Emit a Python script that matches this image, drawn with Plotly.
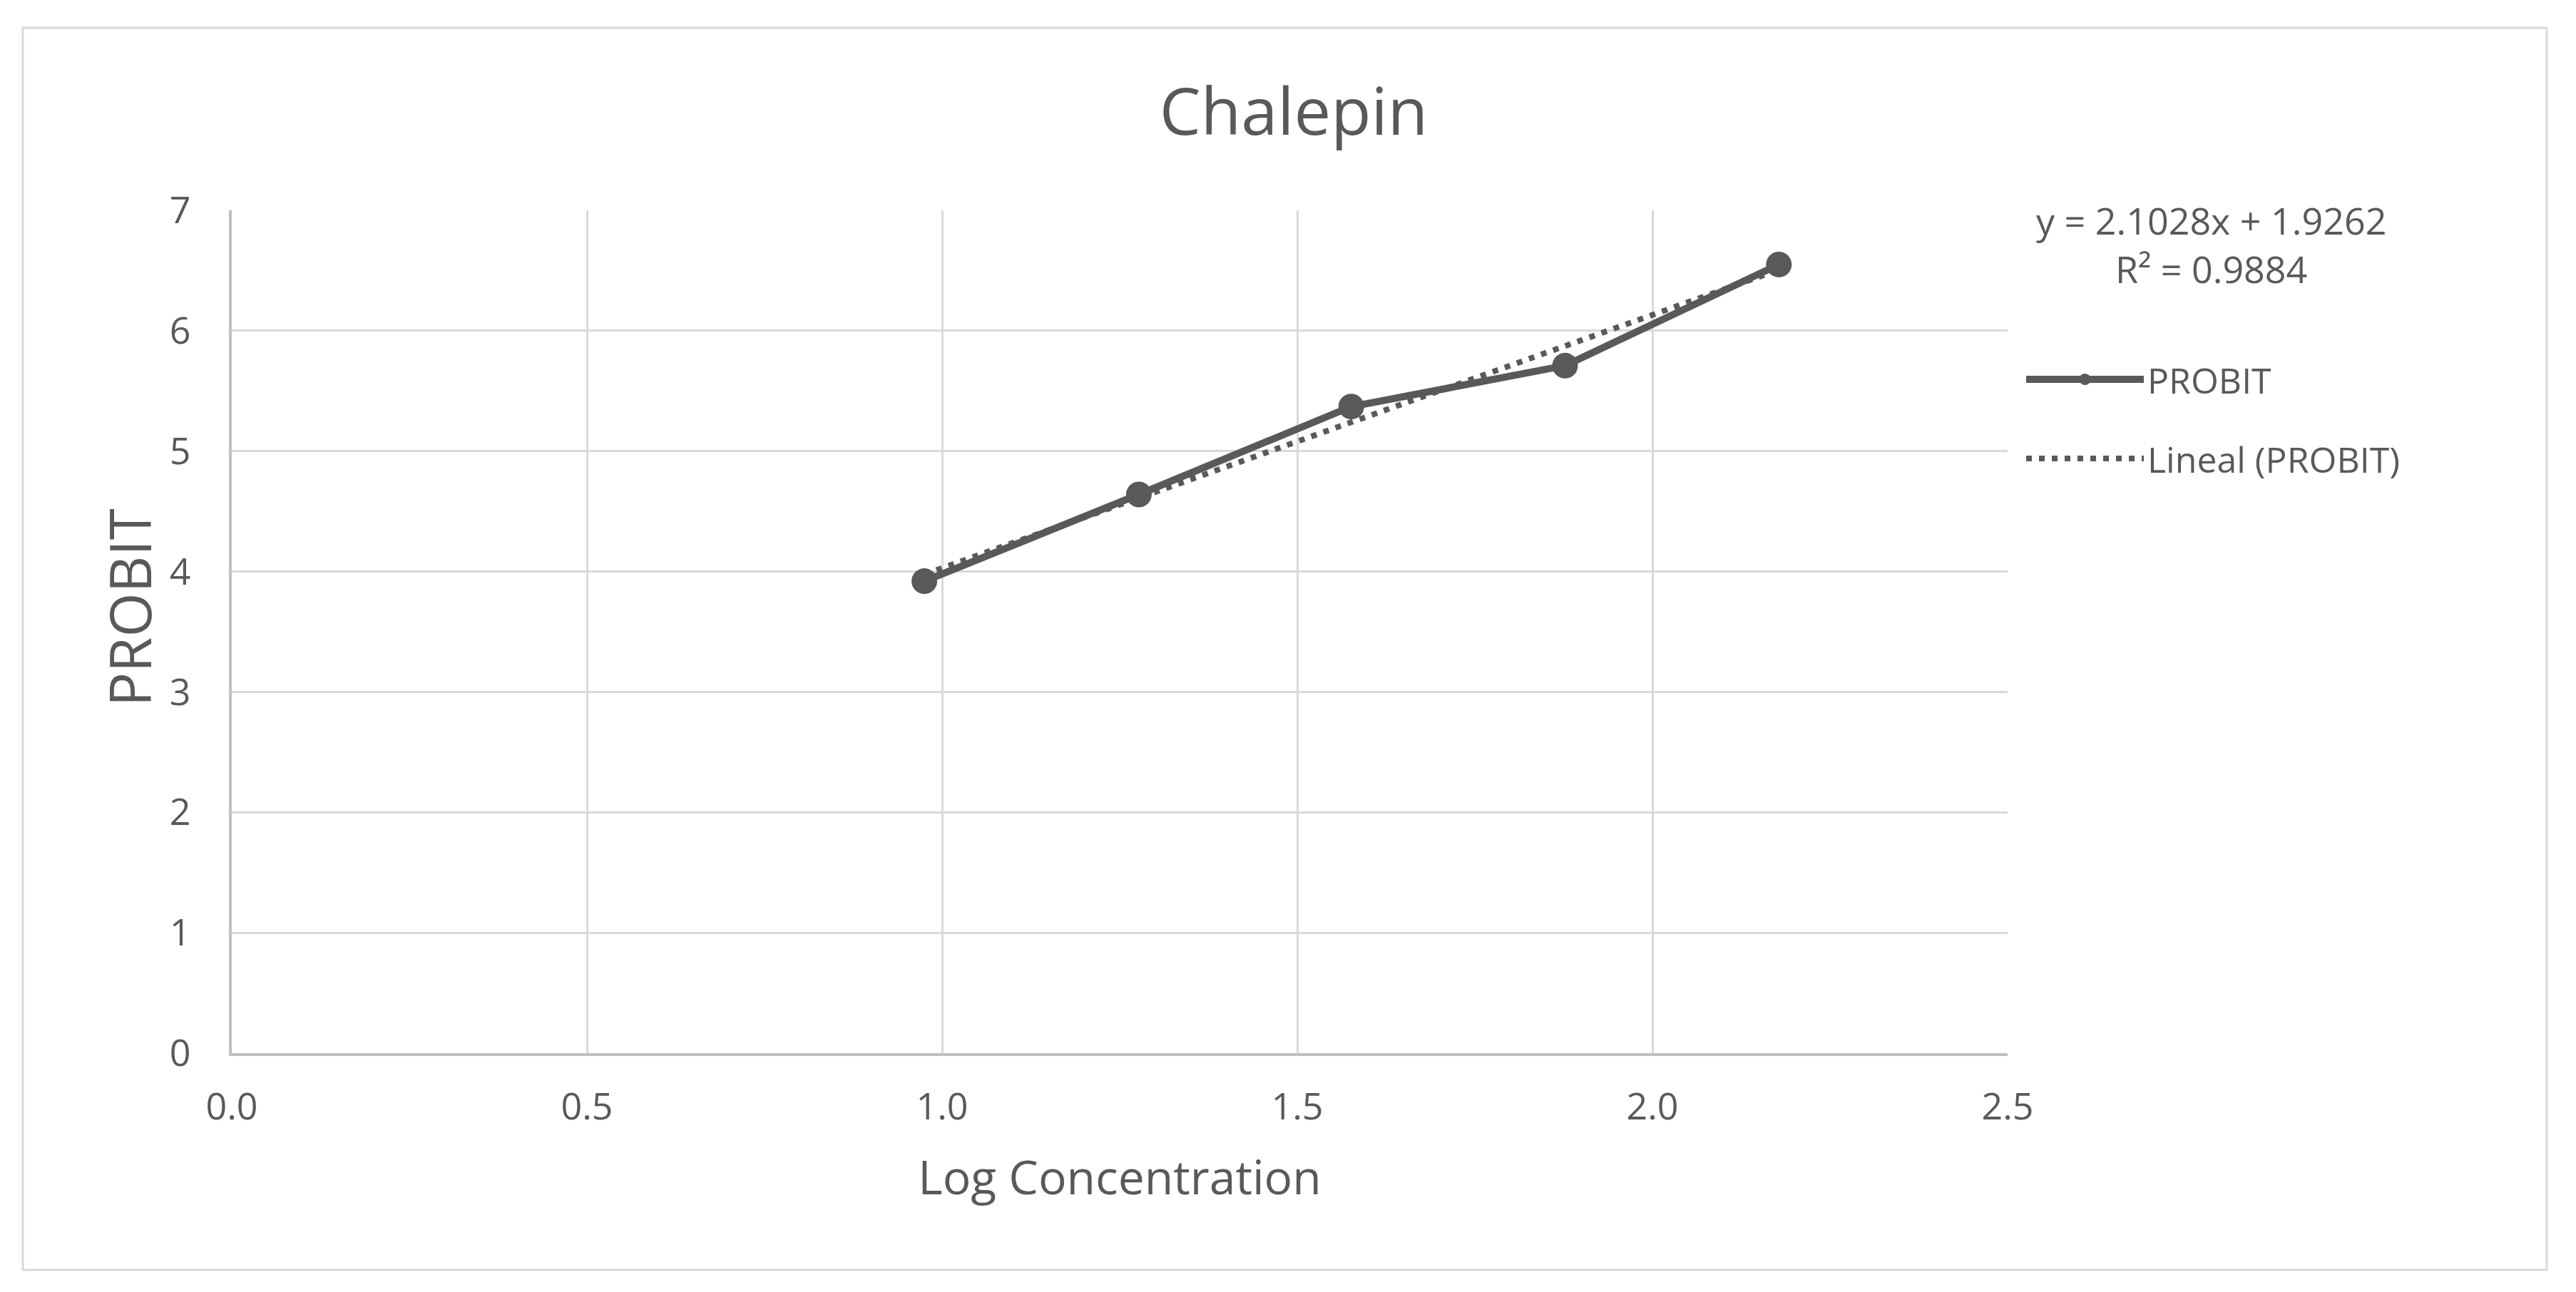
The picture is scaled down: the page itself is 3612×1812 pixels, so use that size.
import plotly.graph_objects as go

# Data
log_conc = [0.975, 1.277, 1.576, 1.877, 2.178]
probit = [3.92, 4.64, 5.37, 5.71, 6.55]
slope = 2.1028
intercept = 1.9262
r_squared = 0.9884
x_ticks = [0.0, 0.5, 1.0, 1.5, 2.0, 2.5]
y_ticks = [0, 1, 2, 3, 4, 5, 6, 7]

FONT = "Open Sans"
GREY = "#595959"
GRID = "#d9d9d9"
OFF = 8  # page body margin compensation

# plot area (reference pixels)
PL, PR, PT, PB = 325, 2815, 295, 1477
PW, PH = PR - PL, PB - PT


def px_x(x):
    return (x - PL) / PW


def px_y(y):
    return (PB - y) / PH


trend_x = [min(log_conc), max(log_conc)]
trend_y = [slope * v + intercept for v in trend_x]

fig = go.Figure()
fig.add_trace(go.Scatter(
    x=log_conc, y=probit, mode="lines+markers", name="PROBIT",
    line=dict(color=GREY, width=10),
    marker=dict(color=GREY, size=36),
    legend="legend",
))
fig.add_trace(go.Scatter(
    x=trend_x, y=trend_y, mode="lines", name="Lineal (PROBIT)",
    line=dict(color=GREY, width=8, dash="8px,10px"),
    legend="legend2",
))

LEG_W = 165
LEG_X = px_x(3013 - LEG_W - 12)

fig.update_layout(
    width=3612, height=1812,
    paper_bgcolor="white", plot_bgcolor="white",
    margin=dict(l=PL - OFF, r=3612 - (PR - OFF), t=PT - OFF, b=1812 - (PB - OFF)),
    font=dict(family=FONT, color=GREY),
    title=dict(text="Chalepin", font=dict(size=92, color=GREY, family=FONT),
               xref="container", x=0.5, xanchor="center",
               yref="container", y=1 - (157 - OFF) / 1812, yanchor="middle"),
    xaxis=dict(range=[0, 2.5], tickvals=x_ticks, tickformat=".1f",
               showgrid=True, gridcolor=GRID, gridwidth=3,
               showline=True, linecolor="#bfbfbf", linewidth=4,
               zeroline=False, ticks="", ticklabelstandoff=27,
               tickfont=dict(size=52, color=GREY, family=FONT),
               title=dict(text="Log Concentration", standoff=45,
                          font=dict(size=66, color=GREY, family=FONT))),
    yaxis=dict(range=[0, 7], tickvals=y_ticks,
               showgrid=True, gridcolor=GRID, gridwidth=3,
               showline=True, linecolor="#bfbfbf", linewidth=4,
               zeroline=False, ticks="", ticklabelstandoff=43,
               tickfont=dict(size=52, color=GREY, family=FONT)),
    legend=dict(x=LEG_X, y=px_y(532), xanchor="left", yanchor="middle",
                font=dict(size=50, color=GREY, family=FONT),
                bgcolor="rgba(0,0,0,0)", itemwidth=LEG_W),
    legend2=dict(x=LEG_X, y=px_y(643), xanchor="left", yanchor="middle",
                 font=dict(size=50, color=GREY, family=FONT),
                 bgcolor="rgba(0,0,0,0)", itemwidth=LEG_W),
    showlegend=True,
)

# y-axis title (placed like the reference, slightly above the plot centre)
fig.add_annotation(
    xref="paper", yref="paper", x=px_x(180), y=px_y(852),
    xanchor="center", yanchor="middle", showarrow=False, textangle=-90,
    text="PROBIT", font=dict(size=80, color=GREY, family=FONT),
)

# trendline equation
fig.add_annotation(
    xref="paper", yref="paper", x=px_x(3100), y=px_y(342),
    xanchor="center", yanchor="middle", showarrow=False, align="center",
    text=f"y = {slope:.4f}x + {intercept:.4f}<br>R² = {r_squared:.4f}",
    font=dict(size=52, color=GREY, family=FONT),
)

# chart-area border
fig.add_shape(
    type="rect", xref="paper", yref="paper",
    x0=px_x(32), x1=px_x(3571), y0=px_y(1781), y1=px_y(39),
    line=dict(color=GRID, width=3), fillcolor="rgba(0,0,0,0)", layer="below",
)

fig.write_html("out.html")
